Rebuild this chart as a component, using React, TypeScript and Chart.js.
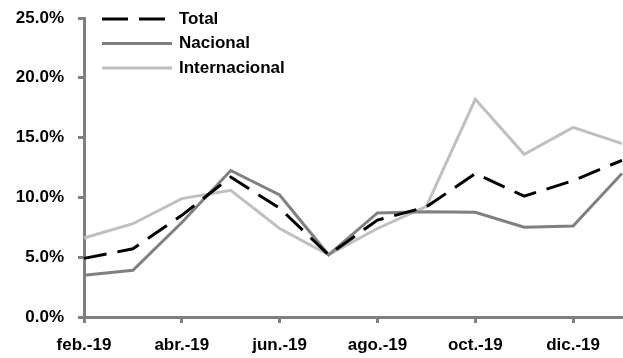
import React, { useEffect, useRef } from "react";
import { Chart, registerables } from "chart.js";

Chart.register(...registerables);

const categories = [
  "feb.-19", "mar.-19", "abr.-19", "may.-19", "jun.-19", "jul.-19",
  "ago.-19", "sep.-19", "oct.-19", "nov.-19", "dic.-19", "ene.-20",
];
const totalValues = [4.9, 5.7, 8.5, 11.7, 9.1, 5.2, 8.1, 9.2, 12.0, 10.1, 11.4, 13.1];
const nacionalValues = [3.5, 3.9, 7.9, 12.25, 10.2, 5.2, 8.7, 8.8, 8.75, 7.5, 7.6, 12.0];
const internacionalValues = [6.6, 7.8, 9.9, 10.6, 7.4, 5.2, 7.4, 9.25, 18.2, 13.6, 15.85, 14.5];
const yTicks = [0, 5, 10, 15, 20, 25];

const FONT = "'Liberation Sans', Arial, sans-serif";

const legendPlugin = {
  id: "insideLegend",
  afterDraw(chart: any) {
    const ctx = chart.ctx;
    const items = [
      { label: "Total", color: "#000000", dash: [26, 11], end: 165 },
      { label: "Nacional", color: "#808080", dash: [], end: 172 },
      { label: "Internacional", color: "#c0c0c0", dash: [], end: 172 },
    ];
    ctx.save();
    items.forEach((it, i) => {
      const y = 19 + i * 24.5;
      ctx.beginPath();
      ctx.setLineDash(it.dash);
      ctx.strokeStyle = it.color;
      ctx.lineWidth = 3;
      ctx.moveTo(102, y);
      ctx.lineTo(it.end, y);
      ctx.stroke();
      ctx.setLineDash([]);
      ctx.fillStyle = "#000000";
      ctx.font = `bold 17px ${FONT}`;
      ctx.textBaseline = "middle";
      ctx.textAlign = "left";
      ctx.fillText(it.label, 179, y);
    });
    ctx.restore();
  },
};

export default function App() {
  const ref = useRef<HTMLCanvasElement>(null);
  useEffect(() => {
    document.body.style.margin = "0";
    const chart = new Chart(ref.current!, {
      type: "line",
      data: {
        labels: categories,
        datasets: [
          {
            label: "Total",
            data: totalValues,
            borderColor: "#000000",
            borderWidth: 3,
            borderDash: [23, 11],
            pointRadius: 0,
            tension: 0,
            order: 0,
          },
          {
            label: "Nacional",
            data: nacionalValues,
            borderColor: "#808080",
            borderWidth: 3,
            pointRadius: 0,
            tension: 0,
            order: 1,
          },
          {
            label: "Internacional",
            data: internacionalValues,
            borderColor: "#c0c0c0",
            borderWidth: 3,
            pointRadius: 0,
            tension: 0,
            order: 2,
          },
        ],
      },
      options: {
        animation: false,
        responsive: false,
        maintainAspectRatio: false,
        clip: false as any,
        layout: { padding: { left: 0, right: 1, top: 18, bottom: 0 } },
        plugins: { legend: { display: false }, tooltip: { enabled: false } },
        scales: {
          x: {
            offset: false,
            grid: {
              display: true,
              drawOnChartArea: false,
              drawTicks: true,
              tickLength: 6,
              lineWidth: 3,
              color: (c: any) => (c.index % 2 === 0 ? "#808080" : "rgba(0,0,0,0)"),
            },
            border: { display: true, color: "#808080", width: 3 },
            ticks: {
              autoSkip: false,
              maxRotation: 0,
              padding: 12,
              color: "#000000",
              font: { family: FONT, size: 17, weight: "bold" },
              callback: (_v: any, i: number) => (i % 2 === 0 ? categories[i] : ""),
            },
            afterFit: (s: any) => {
              s.height = 41;
              s.paddingLeft = 0;
              s.paddingRight = 0;
            },
          },
          y: {
            min: 0,
            max: 25,
            afterBuildTicks: (s: any) => {
              s.ticks = yTicks.map((v) => ({ value: v }));
            },
            grid: {
              display: true,
              drawOnChartArea: false,
              drawTicks: true,
              tickLength: 6,
              lineWidth: 3,
              color: "#808080",
            },
            border: { display: true, color: "#808080", width: 3 },
            ticks: {
              padding: 14,
              color: "#000000",
              font: { family: FONT, size: 17, weight: "bold" },
              callback: (v: any) => Number(v).toFixed(1) + "%",
            },
            afterFit: (s: any) => {
              s.width = 84;
              s.paddingTop = 0;
              s.paddingBottom = 0;
            },
          },
        },
      },
      plugins: [legendPlugin],
    });
    return () => chart.destroy();
  }, []);
  return (
    <div style={{ width: 623, height: 358 }}>
      <canvas ref={ref} width={623} height={358} style={{ display: "block" }} />
    </div>
  );
}
